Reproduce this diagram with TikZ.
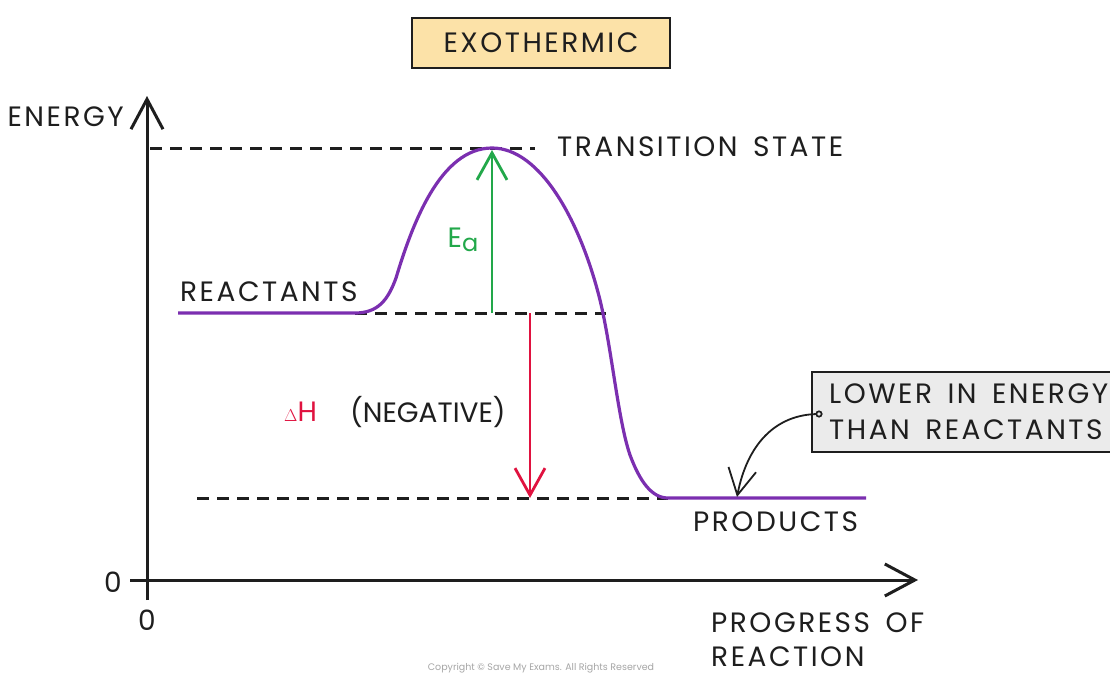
\documentclass[tikz,border=0pt]{standalone}
\usepackage{fontspec}
\setmainfont{Poppins}[LetterSpace=9]
\newfontfamily\plainfont{Poppins}
\usetikzlibrary{arrows.meta,shapes.misc}
\definecolor{curvepurple}{HTML}{7B2FB0}
\definecolor{eagreen}{HTML}{22A84A}
\definecolor{dhred}{HTML}{E0123F}
\definecolor{boxorange}{HTML}{FCE2A8}
\definecolor{calloutgray}{HTML}{EBEBEB}
\definecolor{ink}{HTML}{1E1E1E}
\newcommand{\wsp}{\hspace{0.55em}}
\tikzset{
  lbl/.style={font=\fontsize{28}{31}\selectfont, inner sep=0pt, text=ink},
  axisline/.style={ink, line width=3pt, -{Straight Barb[length=30pt,width=32pt,line width=3pt]}},
  guide/.style={ink, line width=3pt, dash pattern=on 12pt off 8pt},
  levelarrow/.style={line width=2.8pt, -{Straight Barb[length=27pt,width=30pt,line width=2.8pt]}},
}
\begin{document}
\begin{tikzpicture}[x=1pt,y=-1pt]
\useasboundingbox (0,0) rectangle (1110,675);
\fill[white] (0,0) rectangle (1110,675);
% title
\node[draw=ink, line width=1.8pt, fill=boxorange, minimum width=258pt, minimum height=50pt, lbl] (title) at (541,43) {EXOTHERMIC};
% axes
\coordinate (ybot) at (147,600);
\coordinate (ytop) at (147,96);
\coordinate (xleft) at (130,580);
\coordinate (xright) at (918,580);
\draw[axisline] (ybot) -- (ytop);
\draw[axisline] (xleft) -- (xright);
\node[lbl, anchor=east] (energy) at (124,117) {ENERGY};
\node[lbl] (zeroy) at (113,582) {0};
\node[lbl] (zerox) at (147,620) {0};
\node[lbl, anchor=west, align=left] (progress) at (711,640) {PROGRESS\wsp OF\\[3pt]REACTION};
% guides
\coordinate (tsL) at (150,148);
\coordinate (tsR) at (535,148);
\coordinate (reL) at (355,313);
\coordinate (reR) at (606,313);
\coordinate (prL) at (197,498);
\coordinate (prR) at (668,498);
\draw[guide] (tsL) -- (tsR);
\draw[guide] (reL) -- (reR);
\draw[guide] (prL) -- (prR);
\node[lbl, anchor=west] (ts) at (557,147) {TRANSITION\wsp STATE};
\node[lbl, anchor=west] (reac) at (180,292) {REACTANTS};
\node[lbl, anchor=west] (prod) at (693,522) {PRODUCTS};
% curve
\coordinate (rstart) at (178,313);
\coordinate (peak) at (492,148);
\coordinate (pend) at (866,498);
\draw[curvepurple, line width=3.2pt] (rstart) -- (reL)
  .. controls (378,313) and (388,300) .. (396,278)
  .. controls (412,225) and (440,148) .. (peak)
  .. controls (540,148) and (580,220) .. (600,300)
  .. controls (612,350) and (618,420) .. (630,455)
  .. controls (640,482) and (652,498) .. (prR) -- (pend);
% Ea
\coordinate (eabot) at (492,313);
\coordinate (eatop) at (492,150);
\draw[levelarrow, eagreen] (eabot) -- (eatop);
\node[lbl, text=eagreen] (ea) at (463,240) {E\raisebox{-0.3ex}{\fontsize{24}{26}\selectfont a}};
% Delta H
\coordinate (dhtop) at (530,313);
\coordinate (dhbot) at (530,498);
\draw[levelarrow, dhred] (dhtop) -- (dhbot);
\node[lbl, text=dhred, anchor=west] (dh) at (284,412) {{\fontsize{17}{18}\selectfont$\Delta$}H};
\node[lbl, font=\plainfont\fontsize{28}{31}\selectfont, anchor=west] (neg) at (350,412) {(NEGATIVE)};
% callout
\node[chamfered rectangle, chamfered rectangle xsep=9pt, chamfered rectangle ysep=9pt, draw=ink, line width=2pt, fill=calloutgray, minimum width=330pt, minimum height=80pt, anchor=west, inner sep=0pt] (call) at (811,412) {};
\node[lbl, anchor=west, align=left] (calltxt) at (829,412) {LOWER\wsp IN\wsp ENERGY\\[5pt]THAN\wsp REACTANTS};
\coordinate (dot) at (819,414);
\coordinate (target) at (737,497);
\draw[ink, line width=1.8pt, -{Straight Barb[length=26pt,width=28pt,line width=1.8pt]}] (dot) .. controls (775,414) and (747,445) .. (target);
\fill[ink] (dot) circle (3.6pt);
\fill[calloutgray] (dot) circle (1.8pt);
% copyright
\node[font=\plainfont\fontsize{9.5}{11}\selectfont, text=black!35] (copy) at (541,668) {Copyright © Save My Exams. All Rights Reserved};
\end{tikzpicture}
\end{document}
